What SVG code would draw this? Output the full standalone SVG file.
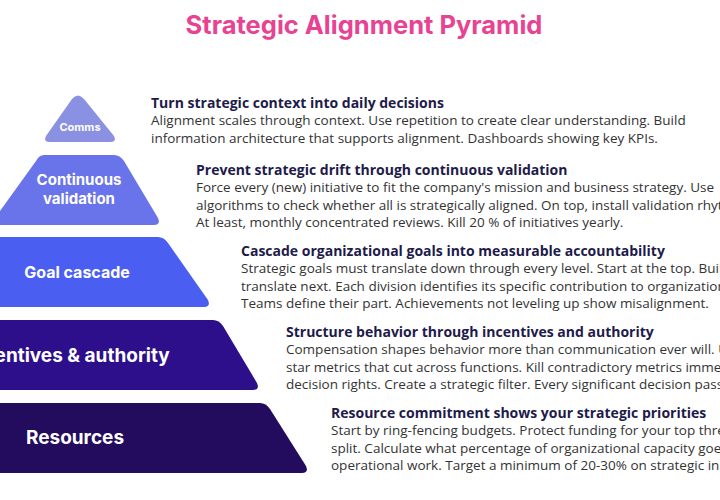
<svg xmlns="http://www.w3.org/2000/svg" width="720" height="500" viewBox="0 0 720 500">
<style>
.lab{font-family:Inter,"Liberation Sans",sans-serif;font-weight:700;fill:#fff;text-anchor:middle}
.h{font-family:"Open Sans","Liberation Sans",sans-serif;font-weight:700;font-size:14px;fill:#1e1b4b}
.b{font-family:"Open Sans","Liberation Sans",sans-serif;font-size:13.5px;fill:#333}
</style>
<rect width="720" height="500" fill="#fff"/>
<text x="364" y="34" text-anchor="middle" font-family="Inter,'Liberation Sans',sans-serif" font-weight="700" font-size="25.5" fill="#e84393">Strategic Alignment Pyramid</text>
<g id="comms">
<path d="M72,99 Q78,92 84,99 L114,136 Q117,142 110,142 L50,142 Q43,142 46,136 Z" fill="#8a90e2"/>
<text class="lab" x="80" y="131" font-size="11">Comms</text>
</g>
<g id="continuous">
<path d="M44,155 L114,155 Q120,155 124,161 L158,218 Q161,225 154,225 L-10,225 L36,161 Q39,155 44,155 Z" fill="#6a74ea"/>
<text class="lab" x="79" y="185" font-size="15">Continuous</text>
<text class="lab" x="79" y="204" font-size="15">validation</text>
</g>
<g id="goal">
<path d="M-10,237 L158,237 Q164,237 168,243 L208,300 Q211,307 204,307 L-10,307 Z" fill="#4a5ff2"/>
<text class="lab" x="77" y="278" font-size="16">Goal cascade</text>
</g>
<g id="incentives">
<path d="M-10,320 L213,320 Q219,320 223,326 L257,383 Q260,390 253,390 L-10,390 Z" fill="#2d0f8c"/>
<text class="lab" x="68" y="362" font-size="19">Incentives &amp; authority</text>
</g>
<g id="resources">
<path d="M-10,403 L260,403 Q266,403 270,409 L306,466 Q309,473 302,473 L-10,473 Z" fill="#230b5e"/>
<text class="lab" x="75" y="444" font-size="19">Resources</text>
</g>
<g id="connectors"></g>
<g id="texts">
<text class="h" x="151" y="108">Turn strategic context into daily decisions</text>
<text class="b" x="151" y="125">Alignment scales through context. Use repetition to create clear understanding. Build</text>
<text class="b" x="151" y="143">information architecture that supports alignment. Dashboards showing key KPIs.</text>
<text class="h" x="196" y="175">Prevent strategic drift through continuous validation</text>
<text class="b" x="196" y="192">Force every (new) initiative to fit the company's mission and business strategy. Use</text>
<text class="b" x="196" y="210">algorithms to check whether all is strategically aligned. On top, install validation rhythms.</text>
<text class="b" x="196" y="227">At least, monthly concentrated reviews. Kill 20 % of initiatives yearly.</text>
<text class="h" x="241" y="256">Cascade organizational goals into measurable accountability</text>
<text class="b" x="241" y="273">Strategic goals must translate down through every level. Start at the top. Build</text>
<text class="b" x="241" y="291">translate next. Each division identifies its specific contribution to organizational goals.</text>
<text class="b" x="241" y="308">Teams define their part. Achievements not leveling up show misalignment.</text>
<text class="h" x="286" y="337">Structure behavior through incentives and authority</text>
<text class="b" x="286" y="354">Compensation shapes behavior more than communication ever will. Use</text>
<text class="b" x="286" y="372">star metrics that cut across functions. Kill contradictory metrics immediately.</text>
<text class="b" x="286" y="389">decision rights. Create a strategic filter. Every significant decision passes.</text>
<text class="h" x="331" y="418">Resource commitment shows your strategic priorities</text>
<text class="b" x="331" y="435">Start by ring-fencing budgets. Protect funding for your top three</text>
<text class="b" x="331" y="453">split. Calculate what percentage of organizational capacity goes to</text>
<text class="b" x="331" y="470">operational work. Target a minimum of 20-30% on strategic initiatives.</text>
</g>
</svg>
